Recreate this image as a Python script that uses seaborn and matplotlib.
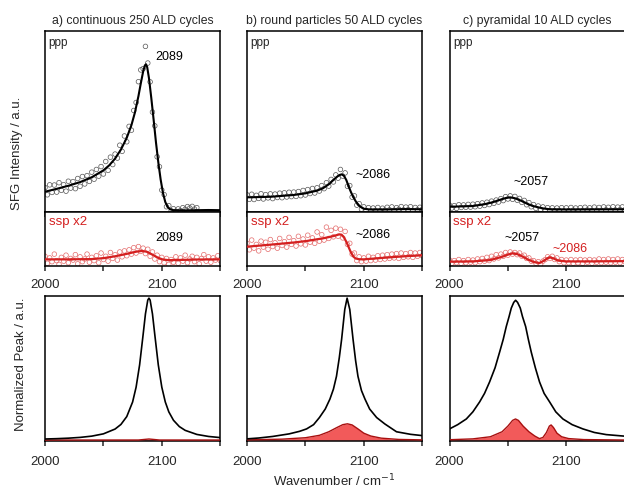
import numpy as np
import matplotlib
matplotlib.use("Agg")
import matplotlib.pyplot as plt
import seaborn as sns

# ---------------- data ----------------
TITLES = ["a) continuous 250 ALD cycles", "b) round particles 50 ALD cycles", "c) pyramidal 10 ALD cycles"]

# measurement grid of the SFG spectra (cm-1)
WN_GRID = np.arange(2000, 2151, 2)

# --- upper panels: ppp spectra (scaled to 0-100 of panel height) ---
A_PPP_FIT_X = [2000, 2010, 2020, 2030, 2040, 2050, 2055, 2060, 2065, 2070, 2074, 2077, 2080, 2082, 2084,
               2085.5, 2086.5, 2087.5, 2089, 2091, 2093, 2095, 2097, 2099, 2101, 2103, 2105, 2107, 2110,
               2120, 2130, 2140, 2150]
A_PPP_FIT_Y = [11.2, 12.8, 14.5, 16.5, 19.2, 23.0, 25.8, 29.5, 34.5, 41.0, 48.0, 55.0, 64.0, 71.0, 77.5,
               81.0, 81.6, 80.0, 74.0, 63.0, 51.0, 38.5, 27.5, 18.0, 10.5, 5.5, 2.8, 1.5, 1.0,
               0.9, 1.0, 1.1, 1.0]
A_PPP_PTS = [13.5, 9.5, 15.0, 10.8, 14.9, 11.0, 16.2, 12.0, 15.1, 11.5, 17.0, 13.2, 16.8, 12.9, 18.5, 14.2,
             19.6, 15.5, 20.1, 16.9, 22.0, 18.1, 23.5, 19.8, 25.1, 21.0, 27.9, 23.0, 30.3, 26.2, 32.0, 29.8,
             36.9, 33.5, 42.0, 38.8, 47.3, 45.2, 56.1, 60.5, 72.0, 78.5, 79.2, 91.5, 82.3, 71.9, 55.2, 47.6,
             30.5, 25.0, 12.1, 9.6, 2.9, 3.5, 0.6, 1.8, 0.4, 1.7, 0.8, 2.4, 1.5, 3.0, 2.2, 3.1, 1.6, 2.4]

B_PPP_FIT_X = [2000, 2020, 2040, 2050, 2060, 2065, 2070, 2074, 2077, 2079, 2081, 2083, 2085, 2087, 2089,
               2091, 2093, 2095, 2097, 2100, 2105, 2120, 2135, 2150]
B_PPP_FIT_Y = [8.1, 8.4, 9.4, 10.3, 11.8, 13.1, 15.3, 17.7, 19.4, 20.4, 20.8, 20.0, 17.7, 14.2, 11.0,
               8.3, 6.0, 4.2, 2.9, 1.8, 1.4, 1.4, 1.6, 1.5]
B_PPP_PTS = [9.5, 7.0, 9.8, 6.9, 9.2, 7.5, 10.1, 7.2, 9.6, 7.8, 10.0, 7.4, 9.9, 8.0, 10.4, 7.9, 10.6, 8.3,
             10.9, 8.5, 11.0, 8.6, 11.3, 9.0, 11.9, 9.4, 12.4, 10.2, 13.0, 10.5, 13.4, 11.6, 14.6, 12.9,
             16.2, 14.3, 18.0, 16.6, 20.5, 18.7, 23.5, 19.8, 21.6, 14.2, 14.6, 8.2, 8.9, 3.8, 4.6, 1.6,
             2.9, 0.8, 2.4, 0.6, 2.2, 0.9, 2.5, 0.7, 2.1, 1.0, 2.6, 1.2, 2.8, 0.9, 2.4, 1.5, 3.0, 1.1,
             2.7, 1.3, 2.9, 0.8, 2.5, 1.2, 2.6, 1.4]

C_PPP_FIT_X = [2000, 2020, 2030, 2037, 2043, 2048, 2052, 2056, 2060, 2063, 2067, 2071, 2074, 2080, 2086,
               2100, 2150]
C_PPP_FIT_Y = [2.9, 3.3, 4.3, 5.4, 6.7, 7.7, 8.1, 7.6, 6.6, 5.7, 4.4, 3.4, 2.9, 2.0, 1.5, 1.4, 1.5]
C_PPP_PTS = [3.8, 2.2, 3.5, 2.0, 4.0, 2.5, 3.9, 2.6, 4.2, 2.7, 4.3, 2.9, 4.6, 3.2, 5.0, 3.6, 5.4, 4.1,
             6.0, 4.8, 6.6, 5.5, 7.4, 6.3, 8.5, 7.2, 8.9, 7.0, 8.6, 6.5, 7.5, 5.3, 6.4, 4.0, 5.2, 2.9,
             4.1, 2.0, 3.3, 1.4, 2.8, 0.9, 2.4, 0.7, 2.3, 0.8, 2.2, 0.9, 2.4, 0.6, 2.3, 0.8, 2.5, 1.0,
             2.2, 0.7, 2.4, 0.9, 2.6, 1.1, 2.3, 0.8, 2.7, 1.0, 2.5, 0.9, 2.8, 1.2, 2.6, 1.0, 2.9, 1.1,
             2.7, 1.3, 2.8, 1.2]

# --- middle panels: ssp spectra x2 (scaled to 0-100 of panel height) ---
A_SSP_FIT_X = [2000, 2020, 2040, 2050, 2060, 2070, 2078, 2083, 2087, 2092, 2097, 2101, 2106, 2115, 2130, 2150]
A_SSP_FIT_Y = [12.3, 12.3, 12.8, 14.5, 18.0, 22.5, 26.5, 27.8, 26.5, 21.0, 15.0, 12.0, 10.8, 11.2, 12.0, 12.3]
A_SSP_PTS = [18, 5, 15, 8, 22, 10, 3, 16, 9, 20, 6, 14, 11, 21, 4, 17, 8, 13, 22, 7, 16, 10, 19, 6, 24,
             12, 18, 9, 25, 14, 21, 11, 26, 17, 28, 19, 30, 22, 34, 24, 36, 27, 33, 23, 31, 18, 26, 13,
             20, 8, 16, 6, 14, 3, 12, 7, 17, 5, 15, 9, 20, 6, 13, 18, 8, 16, 4, 14, 21, 9, 17, 7, 15,
             11, 19, 10]

B_SSP_FIT_X = [2000, 2020, 2040, 2051, 2060, 2065, 2070, 2075, 2079, 2081, 2083, 2085, 2087, 2089, 2091,
               2093, 2096, 2100, 2110, 2122, 2135, 2150]
B_SSP_FIT_Y = [35.8, 39.5, 43.5, 46.3, 49.5, 51.2, 53.5, 56.0, 58.6, 58.0, 53.0, 45.0, 35.0, 25.0, 17.5,
               14.0, 12.5, 12.3, 14.0, 16.0, 18.0, 19.8]
B_SSP_PTS = [42, 30, 48, 33, 40, 28, 46, 35, 44, 31, 49, 36, 43, 33, 51, 38, 45, 35, 53, 40, 47, 37, 55,
             41, 50, 39, 57, 44, 52, 42, 63, 46, 58, 48, 72, 51, 66, 54, 70, 55, 68, 52, 64, 40, 42, 22,
             24, 10, 17, 8, 15, 9, 18, 10, 16, 11, 19, 12, 20, 13, 21, 14, 22, 15, 23, 14, 24, 16, 23,
             17, 25, 16, 24, 18, 25, 19]

C_SSP_FIT_X = [2000, 2020, 2035, 2045, 2050, 2054, 2058, 2063, 2068, 2073, 2077, 2081, 2084, 2086, 2089,
               2093, 2100, 2120, 2150]
C_SSP_FIT_Y = [8.0, 8.5, 11.0, 17.0, 21.0, 23.5, 22.0, 17.0, 11.0, 7.0, 5.5, 10.0, 14.5, 16.0, 14.0,
               10.0, 8.5, 8.5, 9.0]
C_SSP_PTS = [11, 5, 10, 6, 12, 5, 10, 6, 12, 7, 11, 6, 13, 8, 14, 9, 16, 10, 18, 13, 21, 15, 22, 18,
             25, 20, 26, 22, 25, 21, 24, 18, 20, 14, 15, 9, 10, 5, 8, 3, 9, 12, 17, 14, 18, 12, 15, 8,
             12, 6, 11, 6, 12, 5, 11, 6, 12, 5, 11, 7, 12, 5, 11, 7, 13, 6, 12, 7, 13, 6, 12, 7, 13, 6,
             12, 8]

# --- lower panels: normalized peaks ---
A_NORM_X = [2000, 2010, 2020, 2030, 2040, 2050, 2060, 2065, 2070, 2075, 2078, 2081, 2084, 2086, 2088, 2089,
            2090, 2092, 2094, 2097, 2100, 2103, 2106, 2110, 2115, 2120, 2130, 2140, 2150]
A_NORM_PPP = [0.009, 0.0114, 0.0149, 0.0203, 0.0292, 0.0453, 0.0791, 0.1114, 0.1668, 0.2693, 0.3738,
              0.5303, 0.7429, 0.8892, 0.9863, 1.0, 0.9863, 0.8892, 0.7429, 0.5303, 0.3738, 0.2693,
              0.2000, 0.1408, 0.0965, 0.0699, 0.0412, 0.0270, 0.0190]
A_NORM_SSP_X = [2000, 2080, 2085, 2089, 2093, 2098, 2150]
A_NORM_SSP = [0.002, 0.002, 0.006, 0.009, 0.006, 0.002, 0.002]

B_NORM_X = [2000, 2010, 2022, 2036, 2045, 2051, 2057, 2062, 2067, 2071, 2074, 2076.6, 2079, 2081, 2083.7,
            2085.7, 2088, 2090.8, 2093, 2095, 2098, 2101, 2105, 2111, 2118, 2128, 2140, 2150]
B_NORM_PPP = [0.010, 0.016, 0.027, 0.045, 0.063, 0.08, 0.11, 0.16, 0.22, 0.29, 0.36, 0.45, 0.58, 0.71,
              0.92, 1.0, 0.92, 0.71, 0.56, 0.45, 0.35, 0.29, 0.22, 0.16, 0.115, 0.06, 0.042, 0.033]
B_NORM_SSP_X = [2000, 2030, 2050, 2062, 2070, 2077, 2082, 2086, 2090, 2095, 2100, 2106, 2115, 2130, 2150]
B_NORM_SSP = [0.003, 0.008, 0.018, 0.035, 0.06, 0.09, 0.11, 0.116, 0.108, 0.08, 0.05, 0.03, 0.015,
              0.006, 0.003]

C_NORM_X = [2000, 2007, 2014.4, 2020, 2025.8, 2030, 2034.3, 2039, 2042.9, 2046, 2048.6, 2051, 2052.9, 2055,
            2056.6, 2058.3, 2060.6, 2062.5, 2065.2, 2067.5, 2070, 2073.5, 2077.1, 2081, 2085.7, 2091,
            2097.1, 2105, 2114.2, 2124, 2134.2, 2150]
C_NORM_PPP = [0.08, 0.11, 0.15, 0.20, 0.27, 0.33, 0.41, 0.51, 0.62, 0.71, 0.80, 0.87, 0.93, 0.97, 0.985,
              0.97, 0.93, 0.87, 0.80, 0.71, 0.62, 0.51, 0.41, 0.33, 0.27, 0.20, 0.15, 0.11, 0.08, 0.055,
              0.04, 0.029]
C_NORM_SSP_X = [2000, 2020, 2035, 2045, 2050, 2054, 2056.5, 2059, 2063, 2068, 2073, 2077, 2080, 2083,
                2085.5, 2087, 2089, 2092, 2096, 2102, 2115, 2150]
C_NORM_SSP = [0.004, 0.01, 0.025, 0.06, 0.10, 0.14, 0.15, 0.14, 0.10, 0.06, 0.03, 0.012, 0.02, 0.055,
              0.10, 0.108, 0.09, 0.05, 0.025, 0.012, 0.005, 0.002]

# annotations: (panel, row, x, y, text, colour)
ANNOTATIONS = [
    (0, "ppp", 2094.2, 85.6, "2089", "black"),
    (0, "ssp", 2094.2, 51.9, "2089", "black"),
    (1, "ppp", 2093.3, 20.4, "~2086", "black"),
    (1, "ssp", 2092.5, 57.4, "~2086", "black"),
    (2, "ppp", 2054.4, 16.7, "~2057", "black"),
    (2, "ssp", 2047.5, 52.4, "~2057", "black"),
    (2, "ssp", 2087.8, 31.5, "~2086", "#d42020"),
]

# ---------------- style ----------------
sns.set_style("ticks")
plt.rcParams["font.family"] = ["Liberation Sans", "DejaVu Sans"]
plt.rcParams["axes.linewidth"] = 1.1
plt.rcParams["xtick.major.width"] = 1.1
plt.rcParams["xtick.major.size"] = 3.5

RED = "#d42020"
RED_PTS = "#e46a6a"
FILL_RED = "#f25a5a"
EDGE_RED = "#a81010"

W, H = 624, 491
fig = plt.figure(figsize=(W / 100, H / 100), dpi=100)


def px_axes(left, top, right, bottom):
    return fig.add_axes([left / W, 1 - bottom / H, (right - left) / W, (bottom - top) / H])


lefts = [45, 247, 449.5]
width = 175.2

ppp_data = [(A_PPP_FIT_X, A_PPP_FIT_Y, A_PPP_PTS), (B_PPP_FIT_X, B_PPP_FIT_Y, B_PPP_PTS),
            (C_PPP_FIT_X, C_PPP_FIT_Y, C_PPP_PTS)]
ssp_data = [(A_SSP_FIT_X, A_SSP_FIT_Y, A_SSP_PTS), (B_SSP_FIT_X, B_SSP_FIT_Y, B_SSP_PTS),
            (C_SSP_FIT_X, C_SSP_FIT_Y, C_SSP_PTS)]
norm_data = [(A_NORM_X, A_NORM_PPP, A_NORM_SSP_X, A_NORM_SSP),
             (B_NORM_X, B_NORM_PPP, B_NORM_SSP_X, B_NORM_SSP),
             (C_NORM_X, C_NORM_PPP, C_NORM_SSP_X, C_NORM_SSP)]


def style_x(ax, labels, pad=4):
    ax.set_xlim(2000, 2150)
    ax.set_xticks([2000, 2050, 2100, 2150])
    if labels:
        ax.set_xticklabels(["2000", "", "2100", ""], fontsize=9.5)
    else:
        ax.set_xticklabels([])
    ax.tick_params(axis="x", direction="out", pad=pad)
    ax.set_yticks([])
    ax.set_xlabel("")
    ax.set_ylabel("")
    for sp in ax.spines.values():
        sp.set_visible(True)
        sp.set_color("black")


axes_rows = {"ppp": [], "ssp": []}
for i, left in enumerate(lefts):
    right = left + width
    ax_p = px_axes(left, 31, right, 212)
    ax_s = px_axes(left, 212, right, 266)
    ax_n = px_axes(left, 296, right, 441)
    axes_rows["ppp"].append(ax_p)
    axes_rows["ssp"].append(ax_s)

    # ppp
    fx, fy, pts = ppp_data[i]
    xs = WN_GRID[:len(pts)]
    sns.scatterplot(x=xs, y=pts, ax=ax_p, marker="o", s=11, facecolor="none",
                    edgecolor="#555555", linewidth=0.5, zorder=2)
    sns.lineplot(x=fx, y=fy, ax=ax_p, color="black", linewidth=1.5, zorder=3)
    ax_p.set_ylim(0, 100)
    style_x(ax_p, False)
    ax_p.text(0.02, 0.935, "ppp", transform=ax_p.transAxes, fontsize=8.5, va="center", ha="left")
    ax_p.set_title(TITLES[i], fontsize=8.8, pad=5)

    # ssp
    fx, fy, pts = ssp_data[i]
    xs = WN_GRID[:len(pts)]
    sns.scatterplot(x=xs, y=pts, ax=ax_s, marker="o", s=11, facecolor="none",
                    edgecolor=RED_PTS, linewidth=0.5, zorder=2)
    sns.lineplot(x=fx, y=fy, ax=ax_s, color=RED, linewidth=1.6, zorder=3)
    ax_s.set_ylim(0, 100)
    style_x(ax_s, True, pad=6)
    ax_s.text(0.02, 0.81, "ssp x2", transform=ax_s.transAxes, fontsize=9.5, color=RED,
              va="center", ha="left")

    # normalized peaks
    nx, ny, rx, ry = norm_data[i]
    ax_n.fill_between(rx, 0, ry, color=FILL_RED, linewidth=0, zorder=2)
    sns.lineplot(x=rx, y=ry, ax=ax_n, color=EDGE_RED, linewidth=1.0, zorder=3)
    sns.lineplot(x=nx, y=ny, ax=ax_n, color="black", linewidth=1.2, zorder=4)
    ax_n.set_ylim(-0.005, 1.015)
    style_x(ax_n, True, pad=7.5)

for panel, row, x, y, text, col in ANNOTATIONS:
    axes_rows[row][panel].text(x, y, text, fontsize=9, color=col, ha="left", va="center")

fig.text(17 / W, 1 - 153 / H, "SFG Intensity / a.u.", rotation=90, fontsize=9.5,
         ha="center", va="center")
fig.text(21 / W, 1 - 364 / H, "Normalized Peak / a.u.", rotation=90, fontsize=9.5,
         ha="center", va="center")
fig.text(334 / W, 1 - 481 / H, "Wavenumber / cm$^{-1}$", fontsize=9.5, ha="center", va="center")

fig.savefig("out.png", dpi=100)
